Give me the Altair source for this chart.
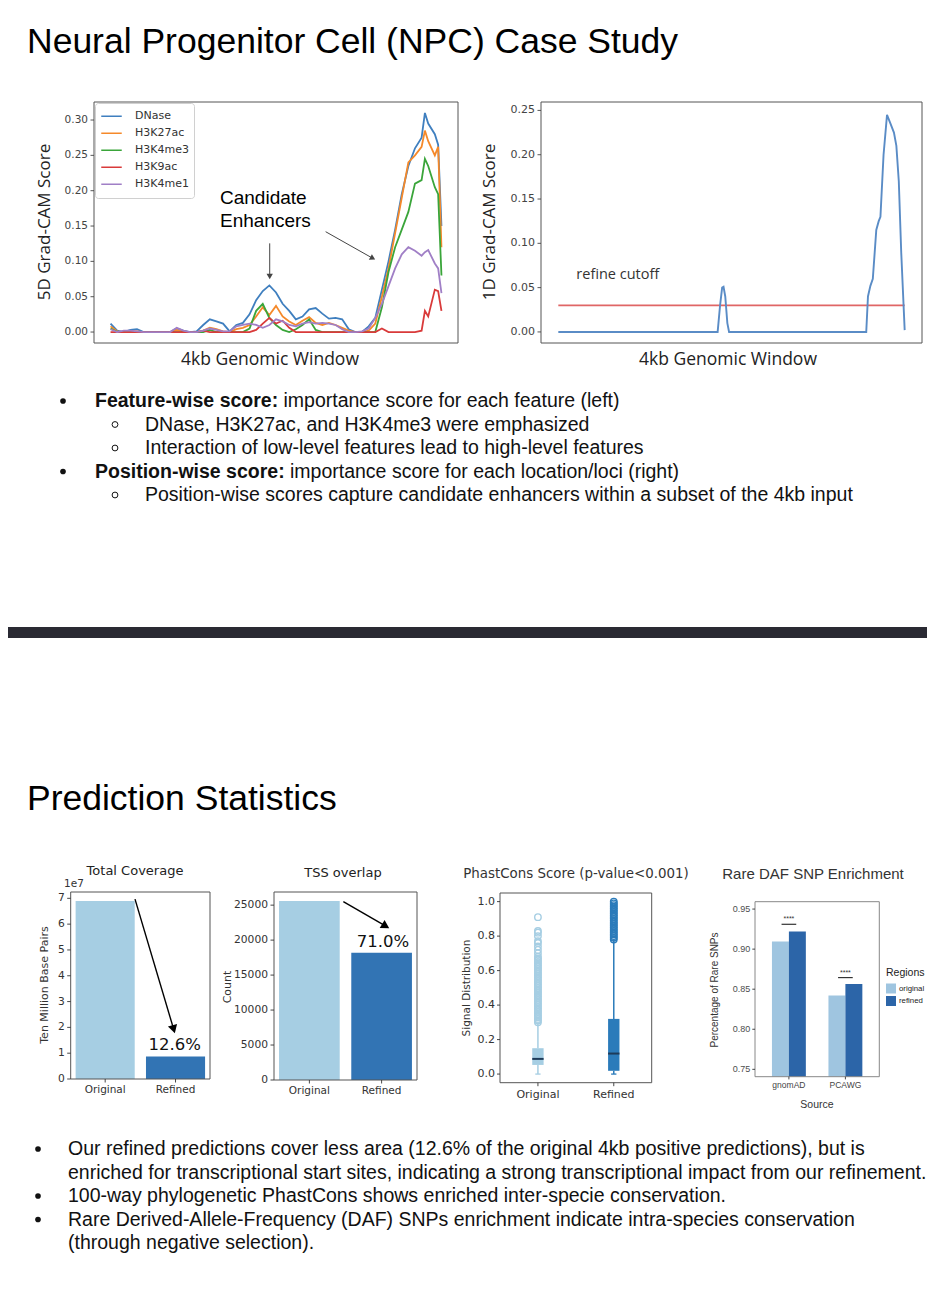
import json
import altair as alt
import pandas as pd

W, H, P = 919, 1296, 8   # canvas size (page minus margins) and page margin

# ------------------------------------------------------------------ text
title_top = "Neural Progenitor Cell (NPC) Case Study"
title_bottom = "Prediction Statistics"
top_bullets = [
    (0, "Feature-wise score:", "importance score for each feature (left)"),
    (1, "", "DNase, H3K27ac, and H3K4me3 were emphasized"),
    (1, "", "Interaction of low-level features lead to high-level features"),
    (0, "Position-wise score:", "importance score for each location/loci (right)"),
    (1, "", "Position-wise scores capture candidate enhancers within a subset of the 4kb input"),
]
bold_end_x = {0: 283.5, 3: 290}
bottom_bullets = [
    (True, "Our refined predictions cover less area (12.6% of the original 4kb positive predictions), but is"),
    (False, "enriched for transcriptional start sites, indicating a strong transcriptional impact from our refinement."),
    (True, "100-way phylogenetic PhastCons shows enriched inter-specie conservation."),
    (True, "Rare Derived-Allele-Frequency (DAF) SNPs enrichment indicate intra-species conservation"),
    (False, "(through negative selection)."),
]

# ------------------------------------------------------------------ 5D Grad-CAM
features = ["DNase", "H3K27ac", "H3K4me3", "H3K9ac", "H3K4me1"]
feature_colors = ["#3f7fbf", "#f5892a", "#3aa53a", "#d93a3a", "#a07fc6"]
win5d = [0, 2, 4, 6, 8, 10, 12, 14, 16, 18, 20, 22, 24, 26, 28, 30, 32, 34, 36, 38,
         40, 42, 44, 46, 48, 50, 52, 54, 56, 58, 60, 62, 64, 66, 68, 70, 72, 74, 76, 78,
         80, 82, 84, 86, 88, 90, 92, 94, 95, 96, 98, 99, 100]
dnase = [0.012, 0.002, 0.0, 0.003, 0.004, 0.0, 0.0, 0.0, 0.0, 0.0,
         0.005, 0.002, 0.0, 0.001, 0.010, 0.018, 0.015, 0.012, 0.001, 0.010,
         0.013, 0.025, 0.045, 0.058, 0.066, 0.056, 0.040, 0.030, 0.018, 0.022,
         0.032, 0.034, 0.026, 0.019, 0.020, 0.018, 0.004, 0.0, 0.0, 0.008,
         0.020, 0.060, 0.100, 0.145, 0.195, 0.235, 0.260, 0.275, 0.310, 0.295,
         0.280, 0.265, 0.150]
h3k27ac = [0.008, 0.001, 0.0, 0.001, 0.001, 0.0, 0.0, 0.0, 0.0, 0.0,
           0.003, 0.001, 0.0, 0.0, 0.002, 0.006, 0.004, 0.001, 0.0, 0.004,
           0.006, 0.010, 0.022, 0.035, 0.024, 0.037, 0.022, 0.015, 0.010, 0.016,
           0.021, 0.013, 0.010, 0.013, 0.010, 0.006, 0.002, 0.0, 0.0, 0.002,
           0.012, 0.050, 0.090, 0.140, 0.190, 0.240, 0.250, 0.262, 0.285, 0.270,
           0.250, 0.262, 0.120]
h3k4me3 = [0.005, 0.0, 0.0, 0.0, 0.0, 0.0, 0.0, 0.0, 0.0, 0.0,
           0.0, 0.0, 0.0, 0.0, 0.0, 0.003, 0.0, 0.0, 0.0, 0.0,
           0.0, 0.005, 0.030, 0.040, 0.020, 0.010, 0.003, 0.0, 0.004, 0.010,
           0.018, 0.003, 0.0, 0.0, 0.0, 0.0, 0.0, 0.0, 0.0, 0.0,
           0.0, 0.035, 0.085, 0.120, 0.145, 0.170, 0.210, 0.215, 0.245, 0.235,
           0.205, 0.195, 0.080]
h3k9ac = [0.0, 0.0, 0.0, 0.0, 0.0, 0.0, 0.0, 0.0, 0.0, 0.0,
          0.0, 0.0, 0.0, 0.0, 0.002, 0.0, 0.0, 0.0, 0.0, 0.0,
          0.0, 0.0, 0.003, 0.012, 0.020, 0.012, 0.016, 0.006, 0.0, 0.0,
          0.0, 0.0, 0.0, 0.0, 0.0, 0.0, 0.0, 0.0, 0.0, 0.0,
          0.0, 0.005, 0.0, 0.0, 0.0, 0.0, 0.0, 0.002, 0.030, 0.022,
          0.060, 0.058, 0.030]
h3k4me1 = [0.004, 0.0, 0.002, 0.002, 0.001, 0.0, 0.0, 0.0, 0.0, 0.0,
           0.006, 0.002, 0.0, 0.0, 0.002, 0.005, 0.003, 0.001, 0.001, 0.008,
           0.010, 0.012, 0.010, 0.006, 0.010, 0.018, 0.015, 0.010, 0.008, 0.012,
           0.014, 0.012, 0.013, 0.012, 0.010, 0.004, 0.0, 0.0, 0.001, 0.005,
           0.020, 0.040, 0.065, 0.090, 0.110, 0.120, 0.115, 0.108, 0.113, 0.116,
           0.097, 0.090, 0.055]
series5d = [dnase, h3k27ac, h3k4me3, h3k9ac, h3k4me1]
ticks5d = [0, 0.05, 0.10, 0.15, 0.20, 0.25, 0.30]
arrows5d = [(48.1, 0.1255, 48.1, 0.080), (65.0, 0.142, 79.0, 0.105)]

# ------------------------------------------------------------------ 1D Grad-CAM
win1d = [0, 46.0, 46.7, 47.3, 47.7, 48.2, 48.8, 49.3, 88.9, 89.4, 90.1, 90.8, 91.8,
         92.5, 93.0, 93.9, 94.9, 95.9, 96.9, 97.6, 98.3, 99.0, 100]
score1d = [0.0, 0.0, 0.030, 0.050, 0.051, 0.040, 0.010, 0.0, 0.0, 0.040, 0.052, 0.060,
           0.115, 0.125, 0.130, 0.200, 0.245, 0.235, 0.225, 0.210, 0.170, 0.090, 0.002]
ticks1d = [0, 0.05, 0.10, 0.15, 0.20, 0.25]
refine_cutoff = 0.03

# ------------------------------------------------------------------ bar charts
bar_groups = ["Original", "Refined"]
bar_colors = ["#a6cee3", "#3274b4"]
coverage_bp = [6.9e7, 0.87e7]
coverage_ticks = [0, 1e7, 2e7, 3e7, 4e7, 5e7, 6e7, 7e7]
tss_count = [25600, 18200]
tss_ticks = [0, 5000, 10000, 15000, 20000, 25000]

# ------------------------------------------------------------------ PhastCons box plot
box_lower = [0.0, 0.0]
box_q1 = [0.053, 0.019]
box_median = [0.088, 0.119]
box_q3 = [0.150, 0.320]
box_upper = [0.296, 0.776]
box_colors = ["#a6cee3", "#2b7bba"]
box_ticks = [0.0, 0.2, 0.4, 0.6, 0.8, 1.0]
outliers_original = [0.30, 0.31, 0.32, 0.33, 0.34, 0.35, 0.36, 0.37, 0.38, 0.39, 0.40,
                     0.41, 0.42, 0.43, 0.44, 0.45, 0.46, 0.47, 0.48, 0.49, 0.50, 0.51,
                     0.52, 0.53, 0.54, 0.55, 0.56, 0.57, 0.58, 0.59, 0.60, 0.61, 0.62,
                     0.63, 0.64, 0.65, 0.66, 0.67, 0.68, 0.70, 0.72, 0.74, 0.76, 0.77,
                     0.80, 0.82, 0.83, 0.91]
outliers_refined = [0.78, 0.79, 0.80, 0.81, 0.82, 0.83, 0.84, 0.85, 0.86, 0.87, 0.88,
                    0.89, 0.90, 0.91, 0.92, 0.93, 0.94, 0.95, 0.96, 0.97, 0.98, 0.99, 1.00]

# ------------------------------------------------------------------ Rare DAF
daf_sources = ["gnomAD", "PCAWG"]
daf_regions = ["original", "refined"]
daf_colors = ["#9fc5e0", "#2c65a8"]
daf_original = [0.9095, 0.842]
daf_refined = [0.922, 0.8566]
daf_sig_y = [0.931, 0.8645]
daf_ticks = [0.75, 0.80, 0.85, 0.90, 0.95]

ONE = pd.DataFrame({"k": [0]})


def txt(s, x, y, size, font="Liberation Sans", weight="normal", color="#111",
        align="left", baseline="middle", angle=0):
    kw = dict(text=s, fontSize=size, font=font, fontWeight=weight, color=color,
              align=align, baseline=baseline)
    if angle:
        kw["angle"] = angle
    return alt.Chart(ONE).mark_text(**kw).encode(x=alt.value(x - P), y=alt.value(y - P))


def scales(L, R, T, B, xdom, ydom):
    xs = alt.Scale(domain=xdom, range=[L - P, R - P], nice=False, zero=False)
    ys = alt.Scale(domain=ydom, range=[B - P, T - P], nice=False, zero=False)
    return xs, ys


def qx(v, xs):
    return alt.XDatum(v, type="quantitative", scale=xs, axis=None)


def qy(v, ys):
    return alt.YDatum(v, type="quantitative", scale=ys, axis=None)


def yticks(xs, ys, xedge, vals, labels, size=10.5, font="DejaVu Sans", color="#444",
           tickcolor="#444", tick=3.5, pad=2.5):
    df = pd.DataFrame({"v": vals, "lab": labels})
    rules = alt.Chart(df).mark_rule(color=tickcolor, strokeWidth=0.9, x2Offset=-tick).encode(
        x=qx(xedge, xs), x2=alt.X2Datum(xedge), y=alt.Y("v:Q", scale=ys, axis=None))
    labs = alt.Chart(df).mark_text(align="right", baseline="middle", dx=-(tick + pad),
                                   fontSize=size, font=font, color=color).encode(
        x=qx(xedge, xs), y=alt.Y("v:Q", scale=ys, axis=None), text="lab:N")
    return [rules, labs]


def xticks(xs, ys, yedge, vals, labels, size=10.5, font="DejaVu Sans", color="#333",
           tickcolor="#444", tick=3.5, pad=2.5):
    df = pd.DataFrame({"v": vals, "lab": labels})
    rules = alt.Chart(df).mark_rule(color=tickcolor, strokeWidth=0.9, y2Offset=tick).encode(
        y=qy(yedge, ys), y2=alt.Y2Datum(yedge), x=alt.X("v:Q", scale=xs, axis=None))
    labs = alt.Chart(df).mark_text(align="center", baseline="top", dy=tick + pad,
                                   fontSize=size, font=font, color=color).encode(
        y=qy(yedge, ys), x=alt.X("v:Q", scale=xs, axis=None), text="lab:N")
    return [rules, labs]


def frame(xs, ys, xdom, ydom, color="#555"):
    return alt.Chart(ONE).mark_rect(fillOpacity=0, stroke=color, strokeWidth=1).encode(
        x=qx(xdom[0], xs), x2=alt.X2Datum(xdom[1]),
        y=qy(ydom[0], ys), y2=alt.Y2Datum(ydom[1]))


def arrow(xs, ys, x0, y0, x1, y1, angle, color, width, head):
    seg = alt.Chart(ONE).mark_rule(color=color, strokeWidth=width).encode(
        x=qx(x0, xs), x2=alt.X2Datum(x1), y=qy(y0, ys), y2=alt.Y2Datum(y1))
    tip = alt.Chart(ONE).mark_point(shape="triangle", filled=True, color=color, opacity=1,
                                    size=head, angle=angle).encode(
        x=qx(x1, xs), y=qy(y1, ys))
    return [seg, tip]


def note(xs, ys, x, y, s, size, font, color="#111", align="center"):
    return alt.Chart(ONE).mark_text(text=s, fontSize=size, font=font, color=color,
                                    align=align, baseline="middle").encode(
        x=qx(x, xs), y=qy(y, ys))


layers = []

# ================================================================== page texts
layers.append(txt(title_top, 27, 53, 35.5, baseline="alphabetic", color="#000"))
layers.append(txt(title_bottom, 27, 810, 35.5, baseline="alphabetic", color="#000"))

for k, (lvl, bold, rest) in enumerate(top_bullets):
    y = 401 + k * 23.5
    if lvl == 0:
        layers.append(alt.Chart(ONE).mark_point(shape="circle", filled=True, color="#111",
                                                opacity=1, size=32).encode(
            x=alt.value(63 - P), y=alt.value(y - P)))
        layers.append(txt(bold, 95, y, 19.5, weight="bold"))
        layers.append(txt(rest, bold_end_x[k], y, 19.5))
    else:
        layers.append(alt.Chart(ONE).mark_point(shape="circle", filled=False, color="#111",
                                                opacity=1, size=34, strokeWidth=1).encode(
            x=alt.value(115 - P), y=alt.value(y - P)))
        layers.append(txt(rest, 145, y, 19.5))

for k, (has_dot, s) in enumerate(bottom_bullets):
    y = 1149 + k * 23.5
    if has_dot:
        layers.append(alt.Chart(ONE).mark_point(shape="circle", filled=True, color="#111",
                                                opacity=1, size=32).encode(
            x=alt.value(38 - P), y=alt.value(y - P)))
    layers.append(txt(s, 68, y, 19.5))

# divider bar
layers.append(alt.Chart(ONE).mark_rect(color="#2a2a33").encode(
    x=alt.value(0), x2=alt.value(W), y=alt.value(627 - P), y2=alt.value(638 - P)))

# ================================================================== 5D chart
X5 = [-5, 105]
Y5 = [-0.0155, 0.3255]
xs5, ys5 = scales(94, 458, 102, 343, X5, Y5)
rows = []
for f, vals in zip(features, series5d):
    for x, v in zip(win5d, vals):
        rows.append({"pos": x, "feature": f, "score": v})
df5 = pd.DataFrame(rows)
legend5 = alt.Legend(orient="none", legendX=95 - P, legendY=103 - P, title=None,
                     symbolType="stroke", symbolSize=420, symbolStrokeWidth=1.6,
                     clipHeight=16.5, rowPadding=0, labelFont="DejaVu Sans",
                     labelFontSize=11, labelColor="#333", labelOffset=12, padding=5,
                     strokeColor="#d0d0d0", fillColor="white", cornerRadius=3)
lines5 = alt.Chart(df5).mark_line(strokeWidth=1.8).encode(
    x=alt.X("pos:Q", scale=xs5, axis=None),
    y=alt.Y("score:Q", scale=ys5, axis=None),
    color=alt.Color("feature:N", scale=alt.Scale(domain=features, range=feature_colors),
                    legend=legend5),
    order=alt.Order("pos:Q"))
sub5 = [lines5, frame(xs5, ys5, X5, Y5)]
sub5 += yticks(xs5, ys5, X5[0], ticks5d, [f"{v:.2f}" for v in ticks5d], size=10.5)
sub5 += arrow(xs5, ys5, *arrows5d[0], angle=180, color="#444", width=1, head=40)
sub5 += arrow(xs5, ys5, *arrows5d[1], angle=119, color="#444", width=1, head=40)
layers.append(alt.layer(*sub5))
layers.append(txt("Candidate", 220, 198, 19, color="#000"))
layers.append(txt("Enhancers", 220, 221, 19, color="#000"))
layers.append(txt("5D Grad-CAM Score", 45, 222, 17, font="Open Sans", color="#222",
                  align="center", angle=270))
layers.append(txt("4kb Genomic Window", 270, 360, 17.5, font="Open Sans", color="#222",
                  align="center"))

# ================================================================== 1D chart
X1 = [-5, 105]
Y1 = [-0.0125, 0.2595]
xs1, ys1 = scales(541, 922, 102, 343, X1, Y1)
df1 = pd.DataFrame({"pos": win1d, "score": score1d})
line1 = alt.Chart(df1).mark_line(strokeWidth=1.9, color="#5a8cc6").encode(
    x=alt.X("pos:Q", scale=xs1, axis=None),
    y=alt.Y("score:Q", scale=ys1, axis=None))
cut1 = alt.Chart(ONE).mark_rule(color="#e06666", strokeWidth=1.8).encode(
    x=qx(0, xs1), x2=alt.X2Datum(100), y=qy(refine_cutoff, ys1))
sub1 = [cut1, line1, frame(xs1, ys1, X1, Y1),
        note(xs1, ys1, 5.2, 0.064, "refine cutoff", 14.5, "Open Sans", "#333", "left")]
sub1 += yticks(xs1, ys1, X1[0], ticks1d, [f"{v:.2f}" for v in ticks1d], size=11)
layers.append(alt.layer(*sub1))
layers.append(txt("1D Grad-CAM Score", 490, 222, 17, font="Open Sans", color="#222",
                  align="center", angle=270))
layers.append(txt("4kb Genomic Window", 728, 360, 17.5, font="Open Sans", color="#222",
                  align="center"))


# ================================================================== bar charts
def bar_panel(values, L, R, T, B, ydom, yvals, ylabels):
    xd = [-0.49, 1.49]
    xs, ys = scales(L, R, T, B, xd, ydom)
    df = pd.DataFrame({"idx": list(range(len(bar_groups))), "group": bar_groups,
                       "value": values})
    bars = alt.Chart(df).transform_calculate(
        xl="datum.idx - 0.42", xr="datum.idx + 0.42").mark_rect().encode(
        x=alt.X("xl:Q", scale=xs, axis=None), x2="xr:Q",
        y=alt.Y("value:Q", scale=ys, axis=None), y2=alt.Y2Datum(0),
        color=alt.Color("group:N", scale=alt.Scale(domain=bar_groups, range=bar_colors),
                        legend=None))
    parts = [bars, frame(xs, ys, xd, ydom)]
    parts += yticks(xs, ys, xd[0], yvals, ylabels, size=10.7, color="#333", tickcolor="#333")
    parts += xticks(xs, ys, ydom[0], list(range(len(bar_groups))), bar_groups, size=10.5,
                    tickcolor="#333")
    return xs, ys, parts


xsc, ysc, subc = bar_panel(coverage_bp, 70.7, 210, 892, 1079, [0, 7.245e7],
                           coverage_ticks, [f"{v / 1e7:.0f}" for v in coverage_ticks])
subc += arrow(xsc, ysc, 0.424, 6.97e7, 0.968, 1.98e7, angle=163.5, color="#000",
              width=1.4, head=90)
subc.append(note(xsc, ysc, 0.99, 1.32e7, "12.6%", 16.5, "DejaVu Sans", "#111"))
layers.append(alt.layer(*subc))
layers.append(txt("Total Coverage", 135, 871, 13, font="DejaVu Sans", color="#222",
                  align="center"))
layers.append(txt("1e7", 64, 884, 10.5, font="DejaVu Sans", color="#333"))
layers.append(txt("Ten Million Base Pairs", 45, 985, 11, font="DejaVu Sans", color="#333",
                  align="center", angle=270))

xst, yst, subt = bar_panel(tss_count, 274, 417, 892, 1080, [0, 26880],
                           tss_ticks, [f"{v:d}" for v in tss_ticks])
subt += arrow(xst, yst, 0.47, 25490, 1.04, 22100, angle=121, color="#000", width=1.4,
              head=90)
subt.append(note(xst, yst, 1.02, 19770, "71.0%", 16.5, "DejaVu Sans", "#111"))
layers.append(alt.layer(*subt))
layers.append(txt("TSS overlap", 343, 873, 13, font="DejaVu Sans", color="#222",
                  align="center"))
layers.append(txt("Count", 228, 987, 11, font="DejaVu Sans", color="#333",
                  align="center", angle=270))

# ================================================================== PhastCons box plot
XB = [0.5, 2.5]
YB = [-0.05, 1.05]
xsb, ysb = scales(500, 651.7, 893, 1082.7, XB, YB)
dfb = pd.DataFrame({"pos": [1, 2], "group": bar_groups, "lower": box_lower, "q1": box_q1,
                    "median": box_median, "q3": box_q3, "upper": box_upper})
ob_rows = [{"pos": 1, "group": bar_groups[0], "value": v} for v in outliers_original]
ob_rows += [{"pos": 2, "group": bar_groups[1], "value": v} for v in outliers_refined]
dfo = pd.DataFrame(ob_rows)
bcol = alt.Color("group:N", scale=alt.Scale(domain=bar_groups, range=box_colors),
                 legend=None)
base_b = alt.Chart(dfb).transform_calculate(
    bl="datum.pos - 0.075", br="datum.pos + 0.075",
    cl="datum.pos - 0.035", cr="datum.pos + 0.035")
whisk_lo = base_b.mark_rule(strokeWidth=1.5).encode(
    x=alt.X("pos:Q", scale=xsb, axis=None), y=alt.Y("lower:Q", scale=ysb, axis=None),
    y2="q1:Q", color=bcol)
whisk_hi = base_b.mark_rule(strokeWidth=1.5).encode(
    x=alt.X("pos:Q", scale=xsb, axis=None), y=alt.Y("q3:Q", scale=ysb, axis=None),
    y2="upper:Q", color=bcol)
cap_lo = base_b.mark_rule(strokeWidth=1.3).encode(
    x=alt.X("cl:Q", scale=xsb, axis=None), x2="cr:Q",
    y=alt.Y("lower:Q", scale=ysb, axis=None), color=bcol)
cap_hi = base_b.mark_rule(strokeWidth=1.3).encode(
    x=alt.X("cl:Q", scale=xsb, axis=None), x2="cr:Q",
    y=alt.Y("upper:Q", scale=ysb, axis=None), color=bcol)
boxes = base_b.mark_rect().encode(
    x=alt.X("bl:Q", scale=xsb, axis=None), x2="br:Q",
    y=alt.Y("q1:Q", scale=ysb, axis=None), y2="q3:Q", color=bcol)
medians = base_b.mark_rule(strokeWidth=2, color="#1d3b5a").encode(
    x=alt.X("bl:Q", scale=xsb, axis=None), x2="br:Q",
    y=alt.Y("median:Q", scale=ysb, axis=None))
outl = alt.Chart(dfo).mark_point(shape="circle", filled=False, size=42,
                                 strokeWidth=1.4, opacity=1).encode(
    x=alt.X("pos:Q", scale=xsb, axis=None),
    y=alt.Y("value:Q", scale=ysb, axis=None), color=bcol)
subb = [whisk_lo, whisk_hi, cap_lo, cap_hi, boxes, medians, outl, frame(xsb, ysb, XB, YB)]
subb += yticks(xsb, ysb, XB[0], box_ticks, [f"{v:.1f}" for v in box_ticks], size=11,
               color="#333", tickcolor="#333", tick=3, pad=2)
subb += xticks(xsb, ysb, YB[0], [1, 2], bar_groups, size=11, tickcolor="#333")
layers.append(alt.layer(*subb))
layers.append(txt("PhastCons Score (p-value<0.001)", 576, 874, 13.4, font="DejaVu Sans",
                  color="#333", align="center"))
layers.append(txt("Signal Distribution", 467, 988, 10.5, font="DejaVu Sans", color="#333",
                  align="center", angle=270))

# ================================================================== Rare DAF
XD = [0.4, 2.6]
YD = [0.7408, 0.9592]
xsd, ysd = scales(755, 879.3, 901.7, 1076.7, XD, YD)
drows = []
for gi, src in enumerate(daf_sources):
    drows.append({"gi": gi + 1, "source": src, "region": daf_regions[0],
                  "side": -1, "value": daf_original[gi]})
    drows.append({"gi": gi + 1, "source": src, "region": daf_regions[1],
                  "side": 1, "value": daf_refined[gi]})
dfd = pd.DataFrame(drows)
legendd = alt.Legend(orient="none", legendX=886 - P, legendY=968 - P, title="Regions",
                     titleFont="Liberation Sans", titleFontSize=10.5, titleFontWeight="normal",
                     titleColor="#222", titlePadding=5, symbolType="square",
                     symbolSize=100, symbolStrokeWidth=0, labelFont="Liberation Sans",
                     labelFontSize=7.8, labelColor="#222", labelOffset=3, rowPadding=2.5,
                     padding=0)
dbars = alt.Chart(dfd).transform_calculate(
    xl="datum.side < 0 ? datum.gi - 0.3 : datum.gi",
    xr="datum.side < 0 ? datum.gi : datum.gi + 0.3"
).mark_rect().encode(
    x=alt.X("xl:Q", scale=xsd, axis=None), x2="xr:Q",
    y=alt.Y("value:Q", scale=ysd, axis=None), y2=alt.Y2Datum(YD[0]),
    color=alt.Color("region:N", scale=alt.Scale(domain=daf_regions, range=daf_colors),
                    legend=legendd))
dfs = pd.DataFrame({"gi": [1, 2], "sig": daf_sig_y})
sig_lines = alt.Chart(dfs).transform_calculate(
    a="datum.gi - 0.13", b="datum.gi + 0.13").mark_rule(color="#333", strokeWidth=1.2).encode(
    x=alt.X("a:Q", scale=xsd, axis=None), x2="b:Q",
    y=alt.Y("sig:Q", scale=ysd, axis=None))
sig_text = alt.Chart(dfs).mark_text(text="****", fontSize=7, font="Liberation Sans",
                                    color="#333", dy=-5).encode(
    x=alt.X("gi:Q", scale=xsd, axis=None),
    y=alt.Y("sig:Q", scale=ysd, axis=None))
subd = [dbars, sig_lines, sig_text, frame(xsd, ysd, XD, YD, "#888")]
subd += yticks(xsd, ysd, XD[0], daf_ticks, [f"{v:.2f}" for v in daf_ticks], size=9,
               font="Liberation Sans", color="#4d4d4d", tickcolor="#333", tick=2.7, pad=2)
subd += xticks(xsd, ysd, YD[0], [1, 2], daf_sources, size=8.5, font="Liberation Sans",
               color="#444", tickcolor="#333", tick=2.7, pad=1.5)
layers.append(alt.layer(*subd))
layers.append(txt("Rare DAF SNP Enrichment", 813, 874, 15, color="#333", align="center"))
layers.append(txt("Percentage of Rare SNPs", 715, 990, 10, color="#333",
                  align="center", angle=270))
layers.append(txt("Source", 817, 1105, 10.5, color="#333", align="center"))

chart = alt.layer(*layers).resolve_scale(
    x="independent", y="independent", color="independent"
).properties(
    width=W, height=H, padding=0, autosize=alt.AutoSizeParams(type="none")
).configure_view(stroke=None)

chart.save("out.html", embed_options={"renderer": "svg", "actions": False})
